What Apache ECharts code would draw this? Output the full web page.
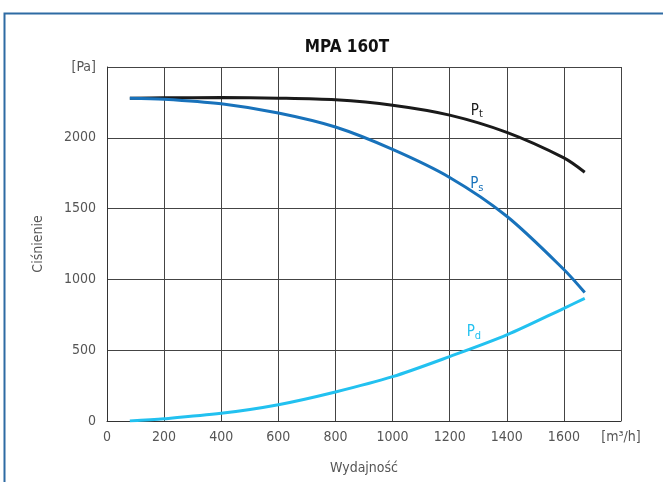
<!DOCTYPE html>
<html>
<head>
<meta charset="utf-8">
<script src="https://cdn.jsdelivr.net/npm/echarts@6/dist/echarts.min.js"></script>
<style>
	html, body { margin: 0; padding: 0; background: #fff; }
	#chartView { width: 663px; height: 482px; }
</style>
</head>
<body>
<div id="chartView"></div>
<script>
var fontName = "'Liberation Sans Narrow', 'DejaVu Sans Condensed', sans-serif";

// wydajność [m3/h]
var flow = [80, 200, 400, 600, 800, 1000, 1200, 1400, 1600, 1673];
// ciśnienie całkowite Pt
var ptValues = [2280, 2282, 2284, 2280, 2268, 2230, 2160, 2038, 1858, 1757];
// ciśnienie statyczne Ps
var psValues = [2280, 2273, 2240, 2175, 2076, 1918, 1720, 1446, 1070, 907];
// ciśnienie dynamiczne Pd
var pdValues = [0, 16, 54, 115, 205, 313, 455, 608, 796, 866];

var xTicks = [0, 200, 400, 600, 800, 1000, 1200, 1400, 1600, 1800];
var yTicks = [0, 500, 1000, 1500, 2000, 2500];

var colors = { pt: '#1a1a1a', ps: '#1872bb', pd: '#22c1f0' };

function toPairs(xs, ys){
	var out = [];
	for (var i = 0; i < xs.length; i++) {
		out.push([xs[i], ys[i]]);
	}
	return out;
}

// etykieta krzywej z indeksem dolnym
function curveLabel(sub, color, coord){
	return {
		symbol: 'circle',
		symbolSize: 0,
		data: [{ coord: coord }],
		label: {
			show: true,
			position: 'inside',
			formatter: '{p|P}{s|' + sub + '}',
			rich: {
				p: { color: color, fontSize: 15, fontFamily: fontName },
				s: { color: color, fontSize: 11, fontFamily: fontName, padding: [7, 0, 0, 0] }
			}
		}
	};
}

function lineSeries(name, values, color, sub, labelCoord){
	return {
		name: name,
		type: 'line',
		smooth: 0.3,
		showSymbol: false,
		data: toPairs(flow, values),
		lineStyle: { color: color, width: 3 },
		itemStyle: { color: color },
		markPoint: curveLabel(sub, color, labelCoord),
		z: 3
	};
}

var myChart = echarts.init(document.getElementById('chartView'));

var option = {
	backgroundColor: '#fff',
	animation: false,
	title: {
		text: 'MPA 160T',
		left: 342,
		top: 34,
		textAlign: 'center',
		textStyle: { fontSize: 17, fontWeight: 'bold', color: '#111', fontFamily: fontName }
	},
	graphic: [{
		type: 'rect',
		shape: { x: 4.5, y: 13.5, width: 700, height: 520 },
		style: { fill: 'none', stroke: '#2e6ba3', lineWidth: 2 },
		silent: true
	}],
	grid: { left: 107, right: 42, top: 67, bottom: 61 },
	xAxis: {
		type: 'value',
		min: xTicks[0],
		max: xTicks[xTicks.length - 1],
		interval: 200,
		name: 'Wydajność',
		nameLocation: 'middle',
		nameGap: 40,
		nameTextStyle: { color: '#555', fontSize: 14, fontFamily: fontName },
		axisLine: { show: true, lineStyle: { color: '#333', width: 1 } },
		axisTick: { show: false },
		axisLabel: {
			color: '#555', fontSize: 14, fontFamily: fontName, margin: 9,
			formatter: function(v){ return v === 1800 ? '[m³/h]' : String(v); }
		},
		splitLine: { show: true, lineStyle: { color: '#444', width: 1 } }
	},
	yAxis: {
		type: 'value',
		min: yTicks[0],
		max: yTicks[yTicks.length - 1],
		interval: 500,
		name: 'Ciśnienie',
		nameLocation: 'middle',
		nameGap: 62,
		nameTextStyle: { color: '#555', fontSize: 14, fontFamily: fontName },
		axisLine: { show: true, lineStyle: { color: '#333', width: 1 } },
		axisTick: { show: false },
		axisLabel: {
			color: '#555', fontSize: 14, fontFamily: fontName, margin: 11,
			formatter: function(v){ return v === 2500 ? '[Pa]' : String(v); }
		},
		splitLine: { show: true, lineStyle: { color: '#444', width: 1 } }
	},
	series: [
		lineSeries('Pt', ptValues, colors.pt, 't', [1295, 2190]),
		lineSeries('Ps', psValues, colors.ps, 's', [1295, 1670]),
		lineSeries('Pd', pdValues, colors.pd, 'd', [1285, 625])
	]
};

myChart.setOption(option);
</script>
</body>
</html>
